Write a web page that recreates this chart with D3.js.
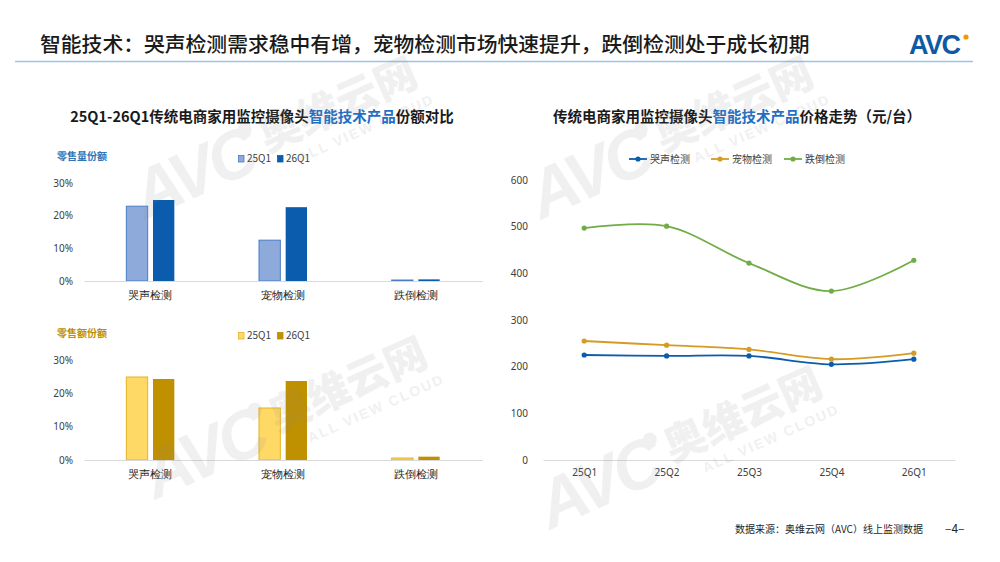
<!DOCTYPE html>
<html>
<head>
<meta charset="utf-8">
<script src="https://cdn.jsdelivr.net/npm/d3@7"></script>
<style>
  html, body { margin: 0; padding: 0; background: #fff; }
  svg { display: block; font-family: "Noto Sans CJK SC", "Noto Sans", sans-serif; }
</style>
</head>
<body>
<div id="chart"></div>
<script>
// share charts
const categories = ['哭声检测', '宠物检测', '跌倒检测'];
const periods = ['25Q1', '26Q1'];
const volumeShare25Q1 = [22.9, 12.5, 0.3];
const volumeShare26Q1 = [24.8, 22.6, 0.5];
const valueShare25Q1 = [24.9, 15.6, 0.6];
const valueShare26Q1 = [24.3, 23.7, 1.0];
const shareTicks = [0, 10, 20, 30];

// price chart
const quarters = ['25Q1', '25Q2', '25Q3', '25Q4', '26Q1'];
const priceCry = [225, 223, 223, 205, 216];
const pricePet = [255, 246, 237, 216, 229];
const priceFall = [497, 501, 422, 362, 428];
const priceTicks = [0, 100, 200, 300, 400, 500, 600];

const width = 1000;
const height = 562;

const svg = d3.select('#chart')
    .append('svg')
    .attr('width', width)
    .attr('height', height);

// header
svg.append('text')
    .attr('x', 40)
    .attr('y', 52)
    .attr('font-size', 20.8)
    .attr('font-weight', 500)
    .attr('fill', '#1a1a1a')
    .text('智能技术：哭声检测需求稳中有增，宠物检测市场快速提升，跌倒检测处于成长初期');

svg.append('line')
    .attr('x1', 15).attr('x2', 973)
    .attr('y1', 61.5).attr('y2', 61.5)
    .attr('stroke', '#9dc3e6')
    .attr('stroke-width', 1.5);

// AVC logo
svg.append('text')
    .attr('x', 909)
    .attr('y', 54)
    .attr('font-family', '"Liberation Sans", Arial, sans-serif')
    .attr('font-size', 27)
    .attr('font-weight', 700)
    .attr('letter-spacing', -1.5)
    .attr('fill', '#0d5aa7')
    .text('AVC');
svg.append('circle')
    .attr('cx', 966).attr('cy', 37).attr('r', 2.6)
    .attr('fill', '#f39800');

function chartTitle(cx, parts) {
    const t = svg.append('text')
        .attr('x', cx)
        .attr('y', 122)
        .attr('text-anchor', 'middle')
        .attr('font-size', 14.5)
        .attr('font-weight', 700)
        .attr('fill', '#1a1a1a');
    parts.forEach(p => {
        t.append('tspan').attr('fill', p[1]).text(p[0]);
    });
}

chartTitle(262, [['25Q1-26Q1传统电商家用监控摄像头', '#1a1a1a'], ['智能技术产品', '#1f6fc5'], ['份额对比', '#1a1a1a']]);
chartTitle(737, [['传统电商家用监控摄像头', '#1a1a1a'], ['智能技术产品', '#1f6fc5'], ['价格走势（元/台）', '#1a1a1a']]);

// grouped bar chart
function shareChart(opts) {
    const x0 = d3.scaleBand().domain(categories).range([84, 482]);
    const x1 = d3.scaleBand().domain(periods).range([-24, 24]).paddingInner(0.2);
    const y = d3.scaleLinear().domain([0, 30]).range([opts.bottom, opts.top]);

    svg.append('text')
        .attr('x', 57)
        .attr('y', opts.top - 23)
        .attr('font-size', 10)
        .attr('font-weight', 700)
        .attr('fill', opts.labelColor)
        .text(opts.label);

    // legend
    const lg = svg.append('g').attr('transform', `translate(238,${opts.top - 23})`);
    periods.forEach((p, i) => {
        const g = lg.append('g').attr('transform', `translate(${i * 39},0)`);
        g.append('rect')
            .attr('x', 0.5).attr('y', -4.5)
            .attr('width', 5.5).attr('height', 6.5)
            .attr('fill', opts.colors[i])
            .attr('stroke', opts.strokes[i])
            .attr('stroke-width', 0.8);
        g.append('text')
            .attr('x', 9).attr('y', 1.5)
            .attr('font-size', 10)
            .attr('fill', '#404040')
            .text(p);
    });

    const yAxis = svg.append('g')
        .attr('transform', 'translate(76,0)')
        .call(d3.axisLeft(y).tickValues(shareTicks).tickSize(0).tickFormat(d => d + '%'));
    yAxis.select('.domain').remove();
    yAxis.selectAll('text')
        .attr('font-family', '"Noto Sans", sans-serif')
        .attr('font-size', 10)
        .attr('fill', '#404040');

    const series = [opts.a, opts.b];
    categories.forEach((c, ci) => {
        periods.forEach((p, pi) => {
            const v = series[pi][ci];
            svg.append('rect')
                .attr('x', x0(c) + x0.bandwidth() / 2 + x1(p))
                .attr('y', y(v))
                .attr('width', x1.bandwidth())
                .attr('height', y(0) - y(v))
                .attr('fill', opts.colors[pi])
                .attr('stroke', opts.strokes[pi])
                .attr('stroke-width', pi === 0 ? 1 : 0);
        });
    });

    const xAxis = svg.append('g')
        .attr('transform', `translate(0,${opts.bottom})`)
        .call(d3.axisBottom(x0).tickSize(0).tickSizeOuter(0).tickPadding(10));
    xAxis.select('.domain').attr('stroke', '#d9d9d9');
    xAxis.selectAll('text')
        .attr('font-size', 11)
        .attr('fill', '#262626');
}

shareChart({
    top: 183, bottom: 281,
    label: '零售量份额', labelColor: '#2e75b6',
    colors: ['#8eaadb', '#0b5cad'], strokes: ['#4a7cc6', '#0b5cad'],
    a: volumeShare25Q1, b: volumeShare26Q1
});
shareChart({
    top: 360, bottom: 460,
    label: '零售额份额', labelColor: '#bf9000',
    colors: ['#ffd966', '#bf9000'], strokes: ['#e6b422', '#bf9000'],
    a: valueShare25Q1, b: valueShare26Q1
});

// price line chart
const px = d3.scalePoint().domain(quarters).range([543, 955]).padding(0.5);
const py = d3.scaleLinear().domain([0, 600]).range([460, 180]);

const pyAxis = svg.append('g')
    .attr('transform', 'translate(531,0)')
    .call(d3.axisLeft(py).tickValues(priceTicks).tickSize(0));
pyAxis.select('.domain').remove();
pyAxis.selectAll('text')
    .attr('font-family', '"Noto Sans", sans-serif')
    .attr('font-size', 10)
    .attr('fill', '#404040');

const pxAxis = svg.append('g')
    .attr('transform', 'translate(0,460)')
    .call(d3.axisBottom(px).tickSize(0).tickSizeOuter(0).tickPadding(9));
pxAxis.select('.domain').attr('stroke', '#d9d9d9');
pxAxis.selectAll('text')
    .attr('font-family', '"Noto Sans", sans-serif')
    .attr('font-size', 10)
    .attr('fill', '#404040');

const lines = [
    { name: '哭声检测', values: priceCry, color: '#0b5cad' },
    { name: '宠物检测', values: pricePet, color: '#d69b22' },
    { name: '跌倒检测', values: priceFall, color: '#70ad47' }
];

const line = d3.line()
    .x((d, i) => px(quarters[i]))
    .y(d => py(d))
    .curve(d3.curveCatmullRom.alpha(0.5));

lines.forEach(s => {
    svg.append('path')
        .datum(s.values)
        .attr('d', line)
        .attr('fill', 'none')
        .attr('stroke', s.color)
        .attr('stroke-width', 1.8);
    svg.selectAll(null)
        .data(s.values)
        .join('circle')
        .attr('cx', (d, i) => px(quarters[i]))
        .attr('cy', d => py(d))
        .attr('r', 2.6)
        .attr('fill', s.color);
});

// line legend
const legendX = [629, 711, 784];
lines.forEach((s, i) => {
    const g = svg.append('g').attr('transform', `translate(${legendX[i]},159)`);
    g.append('line')
        .attr('x1', 0).attr('x2', 18)
        .attr('stroke', s.color).attr('stroke-width', 1.8);
    g.append('circle')
        .attr('cx', 9).attr('r', 2.6).attr('fill', s.color);
    g.append('text')
        .attr('x', 21).attr('y', 3.5)
        .attr('font-size', 10)
        .attr('fill', '#404040')
        .text(s.name);
});

// footer
svg.append('text')
    .attr('x', 923)
    .attr('y', 533)
    .attr('text-anchor', 'end')
    .attr('font-size', 10)
    .attr('fill', '#262626')
    .text('数据来源：奥维云网（AVC）线上监测数据');
svg.append('text')
    .attr('x', 945)
    .attr('y', 533)
    .attr('font-size', 12)
    .attr('fill', '#262626')
    .text('–4–');

// watermarks
const watermarks = [[145, 220], [155, 500], [541, 220], [550, 530]];
watermarks.forEach(([wx, wy]) => {
    const g = svg.append('g')
        .attr('transform', `translate(${wx},${wy}) rotate(-24)`)
        .attr('fill', '#8c8c8c')
        .attr('opacity', 0.12)
        .style('pointer-events', 'none');
    g.append('text')
        .attr('font-family', '"Liberation Sans", Arial, sans-serif')
        .attr('font-size', 68)
        .attr('font-weight', 700)
        .attr('font-style', 'italic')
        .attr('letter-spacing', -4)
        .text('AVC');
    g.append('circle').attr('cx', 128).attr('cy', -42).attr('r', 7);
    g.append('text')
        .attr('x', 139).attr('y', -12)
        .attr('font-size', 42)
        .attr('font-weight', 900)
        .text('奥维云网');
    g.append('text')
        .attr('x', 165).attr('y', 11)
        .attr('font-family', '"Liberation Sans", Arial, sans-serif')
        .attr('font-size', 14)
        .attr('font-weight', 700)
        .attr('letter-spacing', 2)
        .text('ALL VIEW CLOUD');
});
</script>
</body>
</html>
